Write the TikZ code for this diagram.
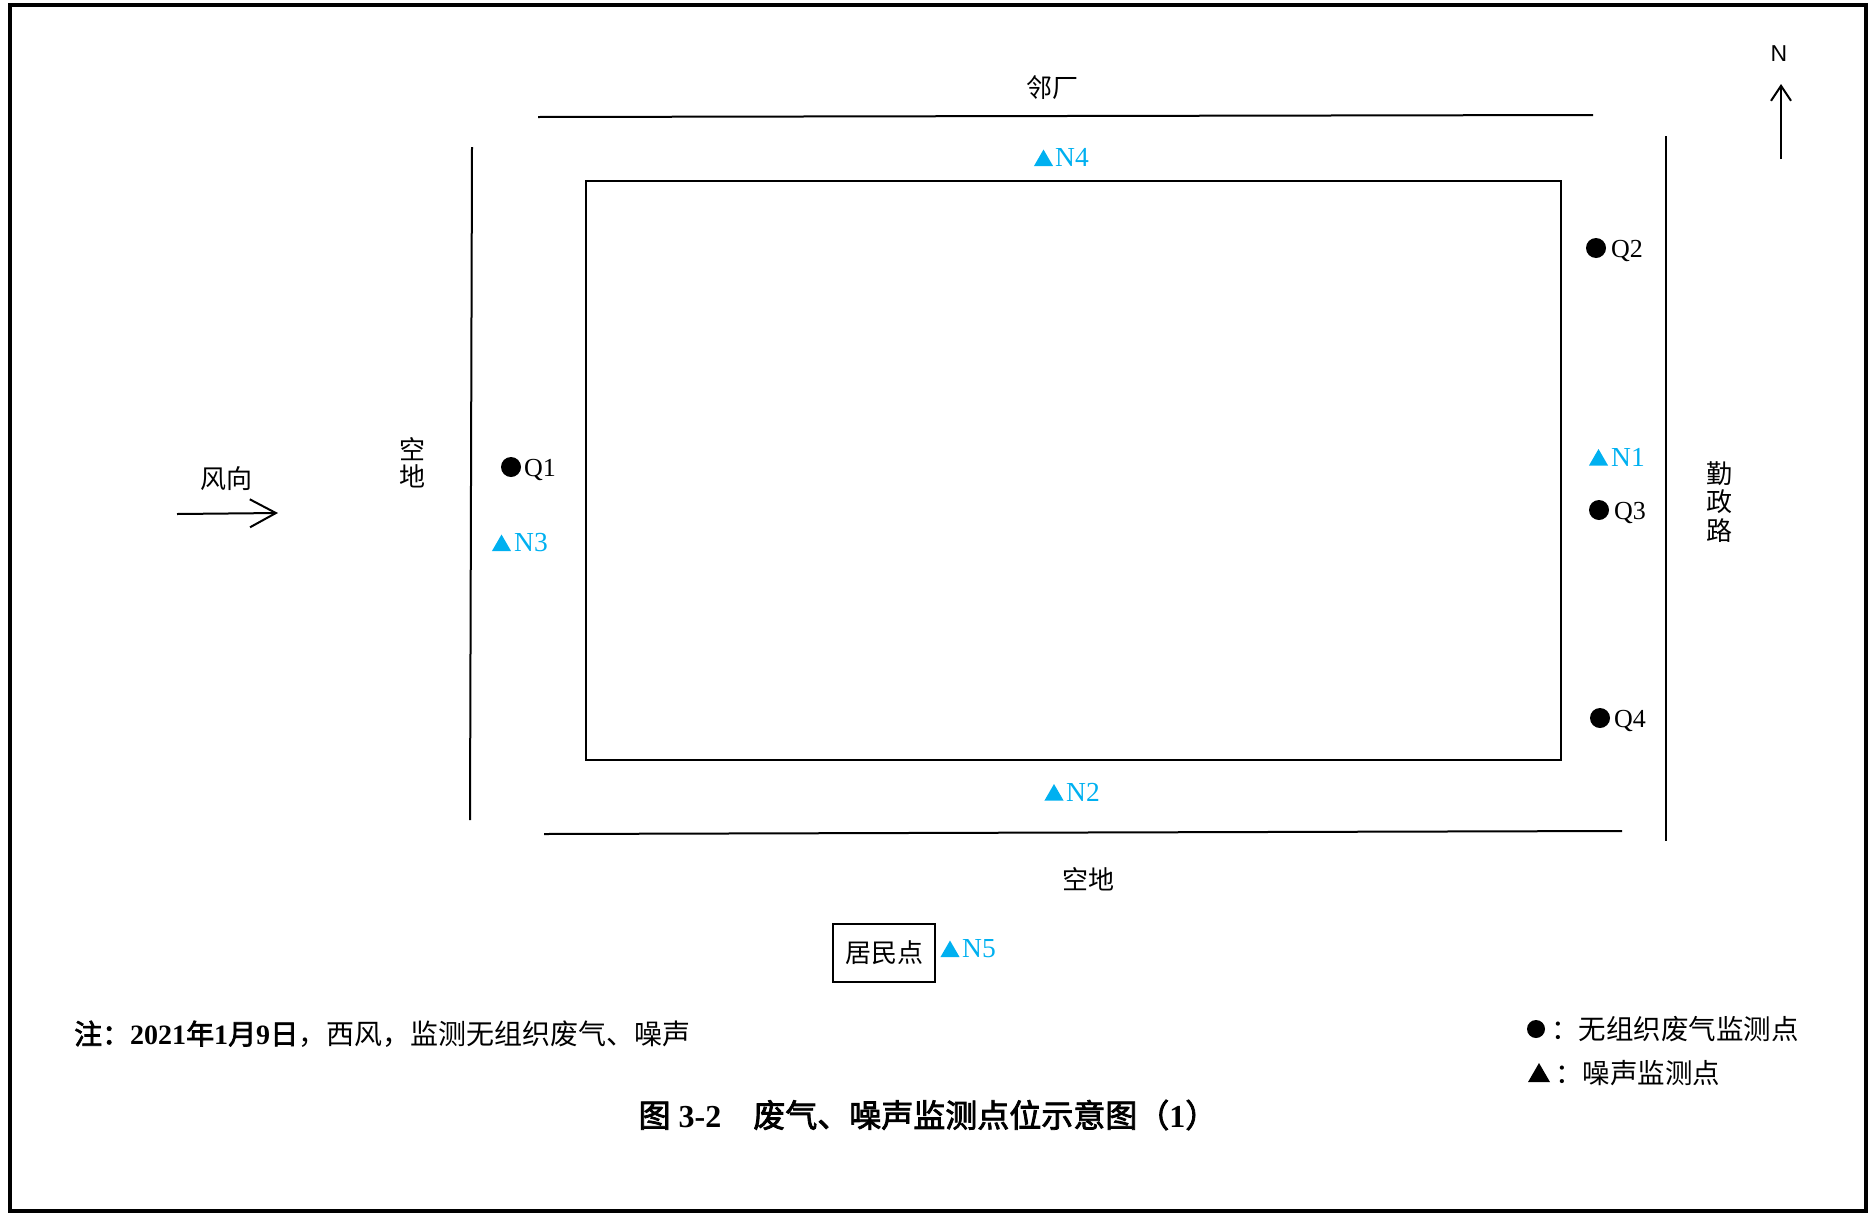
\documentclass[tikz,border=0pt]{standalone}
\usepackage{fontspec}
\setmainfont{Liberation Serif}
\newfontfamily\cjk[AutoFakeBold=2.5]{Noto Sans CJK SC}
\newfontfamily\sansN{Liberation Sans}
\usetikzlibrary{arrows.meta,shapes.geometric}
\definecolor{nblue}{HTML}{00B0F0}
\begin{document}
\begin{tikzpicture}[x=1pt,y=-1pt,
  road/.style={line width=2pt},
  lbl/.style={font=\cjk\fontsize{26}{27}\selectfont, inner sep=0pt},
  dotm/.style={circle, fill=black, minimum size=20pt, inner sep=0pt, outer sep=0pt},
  trim/.style={regular polygon, regular polygon sides=3, fill=nblue, minimum size=22pt, inner sep=0pt, outer sep=0pt},
  qlab/.style={anchor=base west, inner sep=0pt, font=\fontsize{26}{28}\selectfont},
  nlab/.style={qlab, text=nblue, font=\fontsize{27.5}{30}\selectfont},
  legtxt/.style={anchor=west, inner sep=0pt, font=\cjk\fontsize{27.5}{30}\selectfont}]
\useasboundingbox (0,0) rectangle (1870,1213);
\draw[line width=4pt] (10,5) rectangle (1866,1211);
% roads and plant
\draw[road] (538,117) -- (1593,115);
\draw[road] (472,147) -- (470,820);
\draw[road] (1666,136) -- (1666,841);
\draw[road] (544,834) -- (1622,831);
\draw[line width=2.6pt] (586,181) rectangle (1561,760);
% place labels
\node[lbl] (linchang) at (1052,88) {邻厂};
\node[lbl] (kongdiS) at (1088,879) {空地};
\node[lbl, align=center] (kongdiW) at (412,463) {空\\地};
\node[lbl, align=center, font=\cjk\fontsize{26}{28.5}\selectfont] (qzl) at (1719,502) {勤\\政\\路};
\node[lbl] (fx) at (226,479) {风向};
\node[lbl, draw, line width=2pt, minimum width=102pt, minimum height=58pt] (jmd) at (884,953) {居民点};
% wind arrow
\coordinate (w1) at (177,514);
\coordinate (w2) at (278,513);
\draw[line width=2pt, -{Straight Barb[length=26pt,width=28pt]}] (w1) -- (w2);
% north arrow
\node[inner sep=0pt, font=\sansN\fontsize{23}{26}\selectfont] (north) at (1779,54) {N};
\coordinate (n0) at (1781,159);
\coordinate (n1) at (1781,84);
\draw[line width=2pt, -{Straight Barb[length=15pt,width=20pt]}] (n0) -- (n1);
% gas monitoring points
\node[dotm] (q1) at (511,467) {};
\node[qlab] (q1l) at (524,476) {Q1};
\node[dotm] (q2) at (1596,248) {};
\node[qlab] (q2l) at (1611,257) {Q2};
\node[dotm] (q3) at (1599,510) {};
\node[qlab] (q3l) at (1614,519) {Q3};
\node[dotm] (q4) at (1600,718) {};
\node[qlab] (q4l) at (1614,727) {Q4};
% noise monitoring points
\node[trim] (n1m) at (1598.5,460) {};
\node[nlab] (n1l) at (1611,466) {N1};
\node[trim] (n2m) at (1054,795) {};
\node[nlab] (n2l) at (1066,801) {N2};
\node[trim] (n3m) at (501.5,545.5) {};
\node[nlab] (n3l) at (514,551) {N3};
\node[trim] (n4m) at (1043.5,160.5) {};
\node[nlab] (n4l) at (1055,166) {N4};
\node[trim] (n5m) at (950,951.5) {};
\node[nlab] (n5l) at (962,957) {N5};
% note
\node[anchor=west, inner sep=0pt, font=\fontsize{28}{30}\selectfont] (note) at (74,1034)
  {{\bfseries\cjk 注：}{\bfseries 2021}{\bfseries\cjk 年}{\bfseries 1}{\bfseries\cjk 月}{\bfseries 9}{\bfseries\cjk 日}{\cjk ，西风，监测无组织废气、噪声}};
% legend
\node[dotm, minimum size=18pt] (legdot) at (1536,1029) {};
\node[legtxt] (legdott) at (1551,1029) {：无组织废气监测点};
\node[trim, fill=black, minimum size=25.4pt] (legtri) at (1539,1075.7) {};
\node[legtxt] (legtrit) at (1555,1073) {：噪声监测点};
% title
\node[inner sep=0pt, font=\bfseries\fontsize{32}{35}\selectfont] (title) at (928,1115)
  {{\cjk 图} 3-2\hspace{1.0em}{\cjk 废气、噪声监测点位示意图（}1{\cjk ）}};
\end{tikzpicture}
\end{document}
